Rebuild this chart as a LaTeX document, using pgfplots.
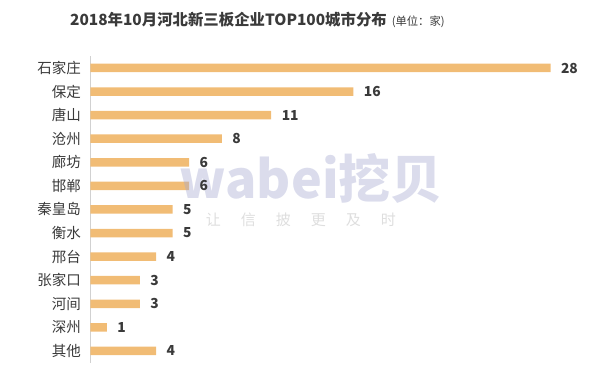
\documentclass[border=0pt]{standalone}
\usepackage{fontspec}
\setmainfont{Noto Sans CJK SC}
\usepackage{pgfplots}
\pgfplotsset{compat=1.18}
\definecolor{bar}{HTML}{F1BC75}
\definecolor{txt}{HTML}{3A3A3A}
\definecolor{wm}{HTML}{A4A8D0}
\begin{document}
\begin{tikzpicture}
\begin{axis}[scale only axis,
  width=492.9pt, height=306.5pt,
  xmin=0, xmax=30, ymin=-0.5, ymax=12.5, y dir=reverse,
  xbar, bar width=8.5pt, hide x axis, axis y line*=left,
  y axis line style={draw=black!18, line width=0.8pt},
  ytick={0,...,12},
  yticklabels={石家庄,保定,唐山,沧州,廊坊,邯郸,秦皇岛,衡水,邢台,张家口,河间,深州,其他},
  major tick length=0pt,
  /pgf/number format/assume math mode=true,
  yticklabel style={font=\fontsize{14.5}{15}\selectfont, text=txt, xshift=-6pt},
  nodes near coords,
  nodes near coords style={font=\bfseries\fontsize{13.8}{14}\selectfont, text=txt, anchor=west, xshift=7pt},
  clip=false]
\addplot[fill=bar, draw=none] coordinates {(28,0) (16,1) (11,2) (8,3) (6,4) (6,5) (5,6) (5,7) (4,8) (3,9) (3,10) (1,11) (4,12)};
\path[draw=none] (axis cs:-5.508,-2.884) rectangle (axis cs:31.315,13.147);
\node[anchor=west, text=txt, inner sep=0pt] at (axis cs:-1.248,-2.036) {\bfseries\fontsize{15.4}{17}\selectfont 2018年10月河北新三板企业TOP100城市分布\hspace{5pt}\mdseries\fontsize{11.3}{12}\selectfont (单位：家)};
\node[text=wm, opacity=0.4, inner sep=0pt] at (axis cs:13.42,4.665) {\bfseries\fontsize{52}{52}\selectfont wabei挖贝};
\node[text=black!13, inner sep=0pt] at (axis cs:12.81,6.446) {\fontsize{15}{16}\selectfont 让\hspace{20pt}信\hspace{20pt}披\hspace{20pt}更\hspace{20pt}及\hspace{20pt}时};
\end{axis}
\end{tikzpicture}
\end{document}
